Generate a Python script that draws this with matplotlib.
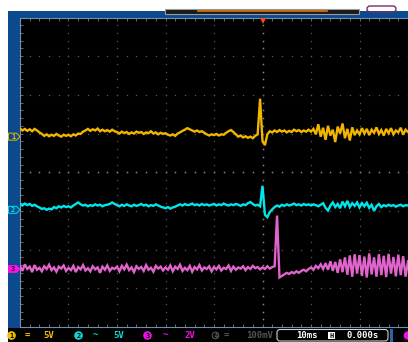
import numpy as np
import matplotlib.pyplot as plt
from matplotlib.patches import Rectangle, Polygon, Circle, FancyBboxPatch

# scope capture: 10 ms/div, samples every 0.5 ms, values in screen divisions
t_ms = np.arange(-50, 30.01, 0.5)

ch1 = [1.13, 1.08, 1.12, 1.07, 1.11, 1.06, 1.12, 1.08, 1.03, 0.99, 0.94, 0.98, 0.93, 0.97, 0.94, 0.99, 0.95, 0.92, 0.97, 0.94,
       0.97, 0.93, 0.98, 0.95, 1.00, 0.99, 1.05, 1.08, 1.12, 1.07, 1.11, 1.08, 1.13, 1.06, 1.10, 1.06, 1.09, 1.05, 1.10, 1.06,
       1.04, 1.00, 1.05, 1.01, 1.04, 0.99, 1.03, 1.00, 1.05, 1.02, 1.04, 0.99, 1.03, 1.01, 1.06, 1.00, 1.03, 0.98, 1.02, 0.99,
       1.01, 0.97, 0.95, 0.98, 0.94, 1.00, 1.03, 1.07, 1.10, 1.14, 1.11, 1.08, 1.05, 1.08, 1.04, 1.06, 1.02, 0.98, 0.95, 0.98,
       0.96, 0.99, 0.95, 0.98, 0.97, 1.02, 1.06, 1.09, 1.04, 0.98, 0.92, 0.95, 0.90, 0.93, 0.89, 0.92, 0.88, 0.94, 0.98, 1.90,
       0.80, 0.70, 0.98, 1.06, 1.03, 1.08, 1.04, 1.09, 1.05, 1.08, 1.03, 1.07, 1.04, 1.10, 1.06, 1.09, 1.04, 1.08, 1.05, 1.10,
       1.05, 1.12, 0.98, 1.24, 0.92, 1.15, 0.84, 1.20, 0.95, 1.10, 0.78, 1.18, 1.00, 1.26, 0.88, 1.12, 0.82, 1.16, 0.96, 1.08,
       0.98, 1.14, 1.00, 1.12, 0.96, 1.10, 1.02, 1.16, 0.99, 1.09, 0.95, 1.12, 1.01, 1.14, 0.98, 1.08, 1.03, 1.15, 0.97, 1.10,
       1.04]

ch2 = [-0.82, -0.86, -0.81, -0.85, -0.82, -0.87, -0.84, -0.88, -0.91, -0.95, -0.93, -0.97, -0.94, -0.96, -0.90, -0.93, -0.88, -0.91, -0.87, -0.90,
       -0.88, -0.91, -0.86, -0.82, -0.78, -0.83, -0.86, -0.84, -0.88, -0.85, -0.87, -0.83, -0.86, -0.84, -0.88, -0.85, -0.84, -0.82, -0.78, -0.82,
       -0.85, -0.88, -0.84, -0.87, -0.83, -0.86, -0.88, -0.84, -0.87, -0.85, -0.82, -0.86, -0.84, -0.88, -0.85, -0.87, -0.83, -0.86, -0.89, -0.91,
       -0.93, -0.90, -0.94, -0.91, -0.89, -0.86, -0.83, -0.86, -0.82, -0.85, -0.84, -0.81, -0.85, -0.83, -0.86, -0.82, -0.85, -0.83, -0.86, -0.84,
       -0.82, -0.86, -0.83, -0.85, -0.81, -0.84, -0.86, -0.83, -0.85, -0.82, -0.84, -0.87, -0.83, -0.85, -0.80, -0.77, -0.82, -0.86, -0.84, -0.88,
       -0.35, -1.10, -1.16, -1.03, -0.96, -0.90, -0.86, -0.89, -0.84, -0.87, -0.83, -0.86, -0.84, -0.81, -0.85, -0.83, -0.86, -0.82, -0.85, -0.83,
       -0.86, -0.83, -0.85, -0.88, -0.84, -0.80, -0.92, -0.99, -0.86, -0.78, -0.90, -0.82, -0.93, -0.76, -0.88, -0.74, -0.90, -0.80, -0.87, -0.78,
       -0.91, -0.80, -0.88, -0.79, -0.92, -0.84, -1.00, -0.88, -0.82, -0.90, -0.85, -0.88, -0.84, -0.87, -0.85, -0.89, -0.86, -0.84, -0.88, -0.85,
       -0.86]

ch3 = [-2.42, -2.55, -2.38, -2.50, -2.44, -2.58, -2.40, -2.52, -2.47, -2.56, -2.43, -2.50, -2.39, -2.53, -2.46, -2.57, -2.44, -2.49, -2.41, -2.55,
       -2.47, -2.53, -2.42, -2.58, -2.45, -2.51, -2.40, -2.54, -2.48, -2.56, -2.43, -2.51, -2.46, -2.60, -2.44, -2.52, -2.41, -2.55, -2.47, -2.50,
       -2.44, -2.56, -2.42, -2.51, -2.39, -2.53, -2.46, -2.58, -2.43, -2.50, -2.45, -2.55, -2.40, -2.52, -2.47, -2.57, -2.42, -2.49, -2.44, -2.54,
       -2.46, -2.52, -2.41, -2.56, -2.44, -2.50, -2.39, -2.55, -2.47, -2.53, -2.42, -2.57, -2.45, -2.51, -2.40, -2.54, -2.46, -2.50, -2.43, -2.56,
       -2.45, -2.51, -2.42, -2.54, -2.47, -2.50, -2.41, -2.55, -2.44, -2.52, -2.46, -2.49, -2.43, -2.53, -2.45, -2.50, -2.42, -2.48, -2.45, -2.51,
       -2.46, -2.50, -2.43, -2.49, -2.45, -2.43, -1.12, -2.72, -2.68, -2.64, -2.60, -2.63, -2.58, -2.61, -2.56, -2.60, -2.55, -2.52, -2.56, -2.50,
       -2.46, -2.52, -2.42, -2.48, -2.38, -2.50, -2.35, -2.52, -2.30, -2.55, -2.32, -2.60, -2.25, -2.58, -2.20, -2.65, -2.15, -2.70, -2.12, -2.62,
       -2.14, -2.68, -2.18, -2.72, -2.10, -2.64, -2.20, -2.70, -2.12, -2.66, -2.16, -2.71, -2.11, -2.62, -2.19, -2.69, -2.13, -2.66, -2.17, -2.70,
       -2.30]

# ground markers (divisions) and channel settings
ch_levels = [0.92, -0.97, -2.50]
ch_colors = ['#f2b600', '#00e6ea', '#e064cc']
ch_scales = ['5V', '5V', '2V']
timebase = '10ms'
delay = '0.000s'

W, H = 408, 342
fig = plt.figure(figsize=(W / 100, H / 100), dpi=100, facecolor='white')

# background / frame in pixel coords
bg = fig.add_axes([0, 0, 1, 1], zorder=0)
bg.set_xlim(0, W)
bg.set_ylim(H, 0)
bg.axis('off')
blue = '#0c4a8e'
bg.add_patch(Rectangle((8, 11), W - 8, 317, color=blue, lw=0))
bg.add_patch(Rectangle((8, 328), W - 8, 14, color='black', lw=0))
bg.add_patch(Rectangle((165, 8.5), 194, 5, facecolor='#1a1a1a', edgecolor='#9a9a9a', lw=0.8))
bg.plot([198, 327], [11, 11], color='#e07a10', lw=1.2)
bg.add_patch(FancyBboxPatch((367, 6), 29, 6, boxstyle='round,pad=0,rounding_size=3',
                            facecolor='none', edgecolor='#7a2a6a', lw=1))

# channel tags on the left strip
def px_y(d):
    return 172.25 - d * 38.7

for i, (lvl, c) in enumerate(zip(ch_levels, ch_colors)):
    y = px_y(lvl)
    pts = [(8.5, y - 3.5), (16.5, y - 3.5), (20, y), (16.5, y + 3.5), (8.5, y + 3.5)]
    if i == 2:
        bg.add_patch(Polygon(pts, closed=True, facecolor='#ff10e0', edgecolor='#ff10e0', lw=0.6))
        bg.text(13, y + 0.3, str(i + 1), color='#300030', fontsize=5, ha='center', va='center',
                family='DejaVu Sans Mono', weight='bold')
    else:
        bg.add_patch(Polygon(pts, closed=True, facecolor=blue, edgecolor=c, lw=0.7))
        bg.text(13, y + 0.3, str(i + 1), color=c, fontsize=5, ha='center', va='center',
                family='DejaVu Sans Mono', weight='bold')

# bottom status bar
ty = 335.5
fnt = dict(fontsize=6.5, va='center', ha='center', family='DejaVu Sans Mono', weight='bold')
circ_cols = ['#f2c000', '#10d8d8', '#f010e8']
circ_x = [11.5, 78.5, 147.5]
cpl_x = [27.5, 95, 165]
cpl_sym = ['=', '~', '~']
scale_x = [48.5, 118.5, 190]
for i in range(3):
    bg.add_patch(Circle((circ_x[i], ty), 3.6, color=circ_cols[i]))
    bg.text(circ_x[i], ty + 0.3, str(i + 1), color='black', **dict(fnt, fontsize=5))
    bg.text(cpl_x[i], ty, cpl_sym[i], color=circ_cols[i], **fnt)
    bg.text(scale_x[i], ty, ch_scales[i], color=circ_cols[i], **fnt)
bg.add_patch(Circle((215.5, ty), 3.3, facecolor='none', edgecolor='#555555', lw=0.8))
bg.text(215.5, ty + 0.3, '4', color='#555555', **dict(fnt, fontsize=5))
bg.text(226, ty, '=', color='#555555', **fnt)
bg.text(259.5, ty, '100mV', color='#555555', **fnt)
bg.add_patch(FancyBboxPatch((277, 329.5), 111, 11.5, boxstyle='round,pad=0,rounding_size=3',
                            facecolor='black', edgecolor='#d0d0d0', lw=0.8))
bg.text(306.5, ty, timebase, color='white', **fnt)
bg.add_patch(Rectangle((328, 331.5), 7, 7.5, facecolor='white', lw=0))
bg.text(331.5, ty + 0.2, 'H', color='black', **dict(fnt, fontsize=5))
bg.text(363, ty, delay, color='white', **fnt)
bg.add_patch(Rectangle((390, 328.5), 3, 13.5, color='#2a64b0', lw=0))
bg.add_patch(Circle((408, ty), 3.6, color='#f010e8'))

# scope screen
ax = fig.add_axes([20 / W, (H - 327) / H, (W - 20) / W, 309.5 / H], zorder=1)
ax.set_facecolor('black')
ax.set_xlim(-50, 30)
ax.set_ylim(-4, 4)
for s in ax.spines.values():
    s.set_color('#6f8fb4')
    s.set_linewidth(0.8)
ax.spines['right'].set_visible(False)

ax.set_xticks(np.arange(-50, 30.01, 2))
ax.set_yticks(np.arange(-4, 4.01, 0.2))
ax.tick_params(direction='in', length=2.2, width=0.6, color='#7a7a7a',
               labelbottom=False, labelleft=False, top=True, right=False)

ydots = np.arange(-4, 4.01, 0.2)
xdots = np.arange(-50, 30.01, 2)
for xv in range(-40, 31, 10):
    c, ms = ('#8a8a8a', 1.1) if xv == 0 else ('#5a5a5a', 0.9)
    ax.plot([xv] * len(ydots), ydots, ls='none', marker='s', ms=ms, mew=0, color=c, zorder=1)
for yv in range(-3, 4):
    c, ms = ('#8a8a8a', 1.1) if yv == 0 else ('#5a5a5a', 0.9)
    ax.plot(xdots, [yv] * len(xdots), ls='none', marker='s', ms=ms, mew=0, color=c, zorder=1)

for vals, c in zip([ch1, ch2, ch3], ch_colors):
    ax.plot(t_ms, vals, color=c, lw=1.7, zorder=3, solid_joinstyle='miter')

# trigger position marker
ax.plot([0], [3.9], marker='v', ms=5, color='#ff4818', mew=0, clip_on=False, zorder=4)

fig.savefig('out.png', dpi=100, facecolor='white')
